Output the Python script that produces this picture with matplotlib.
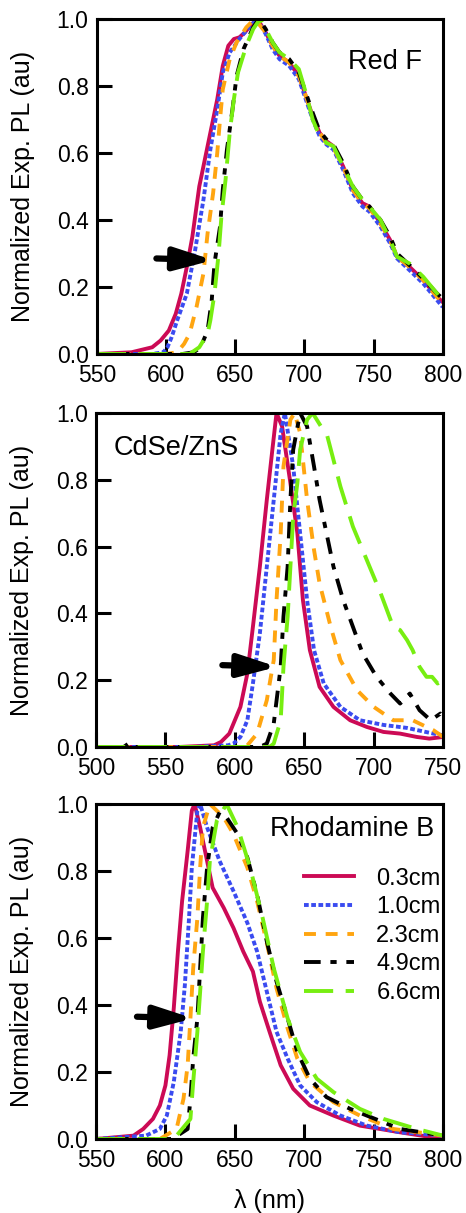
import matplotlib
matplotlib.use('Agg')
import matplotlib.pyplot as plt

plt.rcParams['font.family'] = ['Liberation Sans', 'DejaVu Sans']
plt.rcParams['lines.scale_dashes'] = False

# ---------------- data ----------------
labels = ['0.3cm', '1.0cm', '2.3cm', '4.9cm', '6.6cm']

# Red F
redf_x_03 = [550, 575, 590, 596, 602, 607, 611, 615, 619, 624, 628, 632, 637, 641, 645, 649, 653, 657, 661, 666,
             672, 677, 682, 689, 696, 701, 706, 711, 716, 721, 728, 735, 742, 747, 755, 762, 767, 776, 786, 796, 800]
redf_y_03 = [0.0, 0.005, 0.02, 0.04, 0.07, 0.12, 0.18, 0.26, 0.35, 0.50, 0.58, 0.66, 0.76, 0.86, 0.92, 0.94, 0.945, 0.96, 0.98, 1.0,
             0.96, 0.92, 0.89, 0.87, 0.83, 0.77, 0.71, 0.66, 0.635, 0.62, 0.56, 0.49, 0.45, 0.44, 0.39, 0.34, 0.29, 0.26, 0.22, 0.17, 0.155]
redf_x_10 = [550, 590, 598, 601, 604, 608, 615, 621, 627, 632, 637, 641, 646, 653, 660, 666,
             672, 677, 682, 689, 696, 701, 706, 711, 716, 721, 728, 735, 742, 747, 755, 762, 767, 776, 786, 796, 800]
redf_y_10 = [0.0, 0.0, 0.005, 0.02, 0.05, 0.10, 0.18, 0.31, 0.46, 0.61, 0.73, 0.84, 0.90, 0.94, 0.975, 1.0,
             0.955, 0.91, 0.88, 0.86, 0.82, 0.76, 0.70, 0.65, 0.625, 0.61, 0.55, 0.48, 0.44, 0.425, 0.38, 0.33, 0.285, 0.25, 0.21, 0.16, 0.14]
redf_x_23 = [550, 600, 608, 613, 617, 622, 627, 630, 634, 637, 639, 641, 646, 651, 658, 664,
             672, 677, 682, 689, 696, 701, 706, 711, 716, 721, 728, 735, 742, 747, 755, 762, 767, 776, 786, 796, 800]
redf_y_23 = [0.0, 0.0, 0.005, 0.03, 0.06, 0.14, 0.24, 0.36, 0.48, 0.60, 0.70, 0.79, 0.88, 0.93, 0.975, 1.0,
             0.96, 0.92, 0.89, 0.87, 0.83, 0.77, 0.71, 0.66, 0.63, 0.615, 0.56, 0.49, 0.45, 0.435, 0.39, 0.34, 0.29, 0.26, 0.22, 0.17, 0.155]
redf_x_49 = [550, 612, 620, 625, 630, 633, 635, 639, 641, 644, 648, 651, 656, 663, 667,
             672, 677, 682, 689, 696, 701, 706, 711, 716, 721, 728, 735, 742, 747, 755, 762, 767, 776, 786, 796, 800]
redf_y_49 = [0.0, 0.0, 0.005, 0.02, 0.07, 0.16, 0.27, 0.38, 0.49, 0.61, 0.73, 0.83, 0.91, 0.975, 1.0,
             0.97, 0.93, 0.90, 0.88, 0.84, 0.78, 0.72, 0.665, 0.64, 0.625, 0.57, 0.50, 0.46, 0.44, 0.40, 0.35, 0.30, 0.265, 0.225, 0.18, 0.165]
redf_x_66 = [550, 617, 624, 630, 632, 635, 638, 640, 643, 646, 649, 652, 658, 663, 668,
             672, 677, 682, 689, 696, 701, 706, 711, 716, 721, 728, 735, 742, 747, 755, 762, 767, 776, 786, 796, 800]
redf_y_66 = [0.0, 0.0, 0.02, 0.06, 0.10, 0.18, 0.30, 0.41, 0.52, 0.66, 0.76, 0.84, 0.92, 0.97, 1.0,
             0.97, 0.93, 0.90, 0.88, 0.85, 0.78, 0.70, 0.65, 0.63, 0.62, 0.56, 0.50, 0.46, 0.44, 0.40, 0.34, 0.29, 0.27, 0.23, 0.18, 0.16]

# CdSe/ZnS
cdse_x_03 = [500, 560, 585, 590, 596, 604, 609, 613, 618, 623, 627, 630, 634, 640, 645, 649, 654, 661, 671, 683, 695, 707, 719, 731, 740, 750]
cdse_y_03 = [0.0, 0.0, 0.005, 0.015, 0.04, 0.12, 0.22, 0.36, 0.54, 0.74, 0.89, 1.0, 0.96, 0.79, 0.64, 0.44, 0.29, 0.18, 0.12, 0.08, 0.06, 0.045, 0.04, 0.03, 0.025, 0.03]
cdse_x_10 = [500, 570, 595, 599, 604, 609, 613, 618, 623, 628, 633, 636, 642, 647, 652, 657, 664, 676, 690, 707, 724, 743, 750]
cdse_y_10 = [0.0, 0.0, 0.005, 0.01, 0.03, 0.08, 0.19, 0.34, 0.54, 0.74, 0.94, 1.0, 0.84, 0.64, 0.44, 0.29, 0.19, 0.12, 0.08, 0.066, 0.057, 0.04, 0.035]
cdse_x_23 = [500, 580, 605, 609, 616, 623, 628, 630, 633, 635, 640, 643, 647, 652, 657, 661, 669, 676, 688, 700, 714, 728, 743, 750]
cdse_y_23 = [0.0, 0.0, 0.0, 0.005, 0.04, 0.14, 0.26, 0.44, 0.64, 0.84, 0.98, 1.0, 0.94, 0.74, 0.59, 0.49, 0.36, 0.26, 0.17, 0.12, 0.08, 0.08, 0.05, 0.03]
cdse_x_49 = [500, 520, 524, 528, 600, 618, 623, 628, 633, 635, 638, 640, 642, 647, 652, 657, 661, 666, 671, 678, 685, 692, 702, 712, 719, 726, 733, 741, 748, 750]
cdse_y_49 = [0.0, 0.0, 0.012, 0.0, 0.0, 0.0, 0.01, 0.07, 0.24, 0.39, 0.54, 0.74, 0.89, 1.0, 0.96, 0.84, 0.74, 0.64, 0.54, 0.44, 0.36, 0.28, 0.21, 0.16, 0.13, 0.16, 0.11, 0.08, 0.10, 0.09]
cdse_x_66 = [500, 600, 625, 628, 633, 635, 638, 640, 642, 645, 647, 652, 656, 662, 666, 676, 685, 695, 705, 714, 719, 724, 728, 733, 738, 742, 746, 750]
cdse_y_66 = [0.0, 0.0, 0.0, 0.01, 0.08, 0.24, 0.39, 0.54, 0.69, 0.79, 0.89, 0.98, 1.0, 0.96, 0.94, 0.78, 0.66, 0.56, 0.46, 0.36, 0.35, 0.32, 0.29, 0.24, 0.21, 0.21, 0.19, 0.20]

# Rhodamine B
rhod_x_03 = [550, 577, 584, 591, 596, 600, 603, 606, 609, 612, 616, 619, 621, 625, 630, 634, 642, 649, 656, 663, 668, 675, 683, 692, 704, 721, 740, 769, 800]
rhod_y_03 = [0.0, 0.01, 0.03, 0.06, 0.10, 0.16, 0.25, 0.39, 0.56, 0.71, 0.86, 0.98, 1.0, 0.93, 0.83, 0.75, 0.69, 0.63, 0.56, 0.50, 0.41, 0.32, 0.22, 0.15, 0.10, 0.07, 0.04, 0.02, 0.0]
rhod_x_10 = [550, 586, 596, 601, 606, 611, 614, 617, 619, 623, 625, 630, 639, 649, 659, 666, 673, 680, 688, 697, 709, 726, 745, 769, 800]
rhod_y_10 = [0.0, 0.01, 0.03, 0.07, 0.17, 0.32, 0.46, 0.66, 0.81, 0.98, 1.0, 0.93, 0.83, 0.74, 0.645, 0.56, 0.44, 0.32, 0.24, 0.16, 0.11, 0.07, 0.04, 0.02, 0.01]
rhod_x_23 = [550, 596, 608, 613, 616, 618, 620, 623, 625, 627, 632, 642, 649, 659, 666, 673, 680, 688, 695, 704, 721, 740, 764, 800]
rhod_y_23 = [0.0, 0.0, 0.03, 0.12, 0.22, 0.36, 0.51, 0.66, 0.81, 0.93, 1.0, 0.96, 0.91, 0.81, 0.71, 0.585, 0.45, 0.33, 0.24, 0.17, 0.11, 0.07, 0.03, 0.01]
rhod_x_49 = [550, 605, 616, 618, 620, 623, 625, 627, 630, 634, 639, 644, 652, 659, 666, 673, 680, 688, 695, 704, 716, 733, 745, 769, 800]
rhod_y_49 = [0.0, 0.0, 0.03, 0.12, 0.24, 0.36, 0.51, 0.66, 0.81, 0.93, 0.975, 0.96, 0.91, 0.84, 0.73, 0.59, 0.47, 0.36, 0.26, 0.18, 0.125, 0.09, 0.07, 0.03, 0.01]
rhod_x_66 = [550, 606, 618, 620, 623, 625, 627, 630, 632, 637, 644, 652, 661, 670, 678, 688, 697, 709, 721, 740, 757, 781, 800]
rhod_y_66 = [0.0, 0.0, 0.06, 0.17, 0.32, 0.44, 0.56, 0.71, 0.83, 0.95, 1.0, 0.93, 0.81, 0.66, 0.51, 0.36, 0.26, 0.18, 0.14, 0.09, 0.06, 0.03, 0.01]

# annotations
panel_names = ['Red F', 'CdSe/ZnS', 'Rhodamine B']
arrow_tail = [593, 591, 579.5]
arrow_tip = [634, 630.5, 620]
arrow_y = [0.28, 0.24, 0.36]
xlims = [(550, 800), (500, 750), (550, 800)]

# ---------------- styles ----------------
colors = ['#CC0A55', '#3A4BF0', '#FFA510', '#000000', '#77EE11']
dash_styles = [None, (0, (3.4, 1.8)), (0, (8.6, 7)), (0, (12, 7, 4.5, 7)), (0, (21, 9))]

panels = [
    [(redf_x_03, redf_y_03), (redf_x_10, redf_y_10), (redf_x_23, redf_y_23), (redf_x_49, redf_y_49), (redf_x_66, redf_y_66)],
    [(cdse_x_03, cdse_y_03), (cdse_x_10, cdse_y_10), (cdse_x_23, cdse_y_23), (cdse_x_49, cdse_y_49), (cdse_x_66, cdse_y_66)],
    [(rhod_x_03, rhod_y_03), (rhod_x_10, rhod_y_10), (rhod_x_23, rhod_y_23), (rhod_x_49, rhod_y_49), (rhod_x_66, rhod_y_66)],
]

fig = plt.figure(figsize=(4.66, 12.13), dpi=100)
boxes = [[0.208, 0.7082, 0.742, 0.2762],
         [0.206, 0.3842, 0.745, 0.2753],
         [0.206, 0.0610, 0.745, 0.2762]]

for i, curves in enumerate(panels):
    ax = fig.add_axes(boxes[i])
    for j, (xs, ys) in enumerate(curves):
        line, = ax.plot(xs, ys, color=colors[j], lw=2.8, label=labels[j],
                        solid_joinstyle='round', dash_capstyle='butt')
        if dash_styles[j] is not None:
            line.set_linestyle(dash_styles[j])
    ax.set_xlim(*xlims[i])
    ax.set_ylim(0, 1.0)
    ax.set_yticks([0.0, 0.2, 0.4, 0.6, 0.8, 1.0])
    ax.set_xticks(range(xlims[i][0], xlims[i][1] + 1, 50))
    ax.yaxis.set_major_formatter(matplotlib.ticker.FormatStrFormatter('%.1f'))
    ax.tick_params(direction='in', length=11, width=2.2, labelsize=16.5, pad=6)
    ax.tick_params(axis='x', pad=7)
    for s in ax.spines.values():
        s.set_linewidth(2.2)
    ax.set_ylabel('Normalized Exp. PL (au)', fontsize=18)
    ax.yaxis.set_label_coords(-0.178, 0.5)

    ax.annotate('', xy=(arrow_tip[i], arrow_y[i]), xytext=(arrow_tail[i], arrow_y[i] + 0.005),
                arrowprops=dict(arrowstyle='-|>,head_length=1.15,head_width=0.34', lw=4.5,
                                color='black', mutation_scale=20, shrinkA=0, shrinkB=0))

    if i == 0:
        ax.text(0.94, 0.87, panel_names[i], transform=ax.transAxes, ha='right', va='center', fontsize=19.5)
    elif i == 1:
        ax.text(0.05, 0.895, panel_names[i], transform=ax.transAxes, ha='left', va='center', fontsize=19.5)
    else:
        ax.text(0.975, 0.925, panel_names[i], transform=ax.transAxes, ha='right', va='center', fontsize=19.5)
        ax.legend(loc='upper left', bbox_to_anchor=(0.6, 0.81), frameon=False, fontsize=17,
                  handlelength=2.1, handletextpad=0.95, labelspacing=0.28, borderpad=0.0,
                  borderaxespad=0.0)
        ax.set_xlabel('λ (nm)', fontsize=18)
        ax.xaxis.set_label_coords(0.5, -0.15)

fig.savefig('out.png', dpi=100)
